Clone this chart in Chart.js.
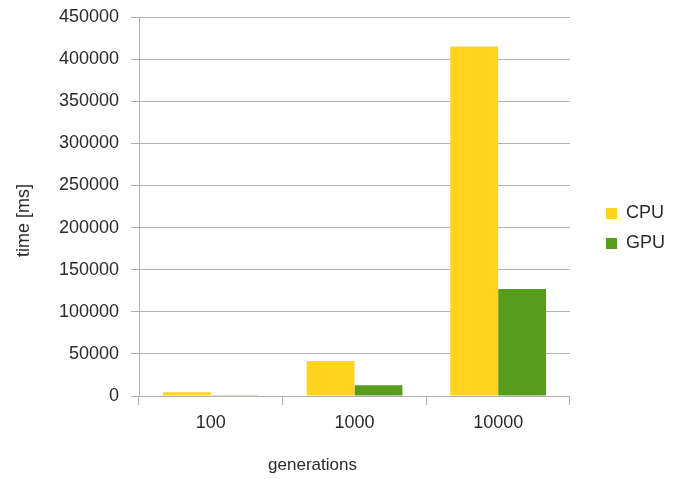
<!DOCTYPE html>
<html>
<head>
<meta charset="utf-8">
<title>CPU vs GPU time</title>
<script src="https://cdn.jsdelivr.net/npm/chart.js@4"></script>
<style>
  html, body { margin: 0; padding: 0; background: #ffffff; }
  canvas { display: block; }
</style>
</head>
<body>
<canvas id="chart" width="685" height="479"></canvas>
<script>
// Run times in milliseconds for each number of generations
const generations = ['100', '1000', '10000'];
const cpuTimes = [4400, 41500, 415000];
const gpuTimes = [1000, 12700, 127000];
const yTicks = [0, 50000, 100000, 150000, 200000, 250000, 300000, 350000, 400000, 450000];
const xTitle = 'generations';
const yTitle = 'time [ms]';

const FONT = '"Liberation Sans", Arial, sans-serif';
const TEXT = '#2b2b2b';
const GRID = '#b3b3b3';

// Axis captions, drawn relative to the plot area
const captions = {
  id: 'captions',
  afterDraw(chart) {
    const { ctx, chartArea } = chart;
    ctx.save();
    ctx.fillStyle = TEXT;
    ctx.textAlign = 'center';
    ctx.textBaseline = 'middle';
    ctx.font = '17px ' + FONT;
    ctx.fillText(xTitle, (chartArea.left + chartArea.right) / 2 - 42, chartArea.bottom + 69);
    ctx.translate(chartArea.left - 115, (chartArea.top + chartArea.bottom) / 2 + 14);
    ctx.rotate(-Math.PI / 2);
    ctx.font = '18px ' + FONT;
    ctx.fillText(yTitle, 0, 0);
    ctx.restore();
  }
};

new Chart(document.getElementById('chart'), {
  type: 'bar',
  data: {
    labels: generations,
    datasets: [
      { label: 'CPU', data: cpuTimes, backgroundColor: '#ffd320', borderWidth: 0,
        categoryPercentage: 0.667, barPercentage: 1.0 },
      { label: 'GPU', data: gpuTimes, backgroundColor: '#579d1c', borderWidth: 0,
        categoryPercentage: 0.667, barPercentage: 1.0 }
    ]
  },
  options: {
    responsive: false,
    animation: false,
    layout: { padding: { top: 17, bottom: 39, left: 0, right: 10 } },
    plugins: {
      legend: {
        position: 'right',
        labels: {
          boxWidth: 11,
          boxHeight: 11,
          padding: 12,
          color: TEXT,
          font: { family: FONT, size: 18 }
        }
      },
      tooltip: { enabled: false }
    },
    scales: {
      x: {
        offset: true,
        grid: { offset: true, drawOnChartArea: false, drawTicks: true, tickLength: 9, color: GRID },
        border: { color: GRID },
        ticks: { color: TEXT, font: { family: FONT, size: 18 }, padding: 7 },
        afterFit(scale) { scale.height = 44; }
      },
      y: {
        min: 0,
        max: yTicks[yTicks.length - 1],
        afterBuildTicks(scale) { scale.ticks = yTicks.map(v => ({ value: v })); },
        grid: { color: GRID, drawTicks: true, tickLength: 8 },
        border: { color: GRID },
        ticks: {
          color: TEXT,
          font: { family: FONT, size: 18 },
          padding: 12,
          callback: v => String(v)
        },
        afterFit(scale) {
          scale.width = 139;
          scale.paddingTop = 0;
        }
      },
      // spacer between the plot and the legend
      gap: {
        position: 'right',
        display: true,
        grid: { display: false },
        border: { display: false },
        ticks: { display: false },
        afterFit(scale) { scale.width = 24; }
      }
    }
  },
  plugins: [captions]
});
</script>
</body>
</html>
